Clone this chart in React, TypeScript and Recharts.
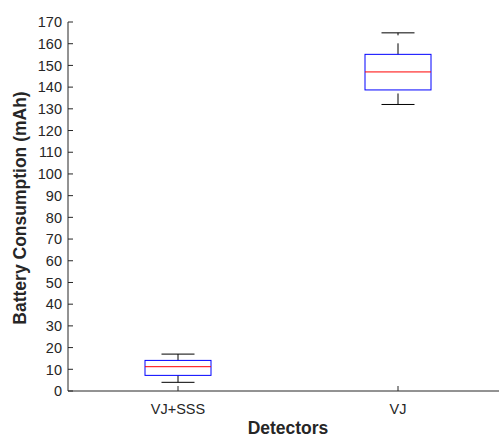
import React from 'react';
import { ComposedChart, Bar, XAxis, YAxis } from 'recharts';

// Box plot stats
const categories = ['VJ+SSS', 'VJ'];
const mins = [4, 132];
const q1s = [7.2, 138.7];
const medians = [11.2, 147];
const q3s = [14.1, 155.1];
const maxs = [17, 165];
const yTicks = [0, 10, 20, 30, 40, 50, 60, 70, 80, 90, 100, 110, 120, 130, 140, 150, 160, 170];

const data = categories.map((name, i) => ({
  name,
  min: mins[i],
  q1: q1s[i],
  median: medians[i],
  q3: q3s[i],
  max: maxs[i],
}));

const FONT = '"Liberation Sans", Arial, Helvetica, sans-serif';
const AXIS = '#262626';

const BoxShape = (props: any) => {
  const { x, y, width, height, payload } = props;
  const k = height / (payload.q3 - payload.q1);
  const toY = (v: number) => y + (payload.q3 - v) * k;
  const cx = x + width / 2;
  const capW = width / 2;
  return (
    <g>
      <line x1={cx} x2={cx} y1={y} y2={toY(payload.max)} stroke="#000" strokeDasharray="11 8" />
      <line x1={cx} x2={cx} y1={toY(payload.min)} y2={y + height} stroke="#000" strokeDasharray="11 8" />
      <line x1={cx - capW / 2} x2={cx + capW / 2} y1={toY(payload.max)} y2={toY(payload.max)} stroke="#000" />
      <line x1={cx - capW / 2} x2={cx + capW / 2} y1={toY(payload.min)} y2={toY(payload.min)} stroke="#000" />
      <rect x={x} y={y} width={width} height={height} fill="none" stroke="#0000ff" />
      <line x1={x} x2={x + width} y1={toY(payload.median)} y2={toY(payload.median)} stroke="#ff0000" />
    </g>
  );
};

const YTick = (props: any) => {
  const { x, y, payload } = props;
  return (
    <g>
      <line x1={x} x2={x + 5} y1={y} y2={y} stroke={AXIS} />
      <text x={x - 6} y={y} dy="0.36em" textAnchor="end" fill={AXIS} fontSize={14.5} fontFamily={FONT}>
        {payload.value}
      </text>
    </g>
  );
};

const XTick = (props: any) => {
  const { x, y, payload } = props;
  return (
    <g>
      <line x1={x} x2={x} y1={y} y2={y - 5} stroke={AXIS} />
      <text x={x} y={y + 23} textAnchor="middle" fill={AXIS} fontSize={14.5} fontFamily={FONT}>
        {payload.value}
      </text>
    </g>
  );
};

const TopTick = (props: any) => {
  const { x, y } = props;
  return <line x1={x} x2={x} y1={y} y2={y + 5} stroke={AXIS} />;
};

export default function App() {
  return (
    <div style={{ position: 'absolute', left: 0, top: 0, width: 499, height: 438, overflow: 'hidden', background: '#fff' }}>
      <ComposedChart width={520} height={438} data={data} margin={{ top: 22, right: 12, bottom: 0, left: 0 }}>
        <XAxis
          dataKey="name"
          height={47}
          stroke={AXIS}
          tickLine={false}
          tickSize={0}
          tickMargin={0}
          tick={<XTick />}
          interval={0}
          label={{
            content: () => (
              <text x={288} y={434} textAnchor="middle" fill={AXIS} fontSize={17.5} fontWeight="bold" fontFamily={FONT}>
                Detectors
              </text>
            ),
          }}
        />
        <XAxis
          xAxisId="top"
          dataKey="name"
          orientation="top"
          height={0}
          stroke={AXIS}
          tickLine={false}
          tickSize={0}
          tickMargin={0}
          tick={<TopTick />}
          interval={0}
        />
        <YAxis
          width={68}
          domain={[0, 170]}
          ticks={yTicks}
          interval={0}
          stroke={AXIS}
          tickLine={false}
          tickSize={0}
          tickMargin={0}
          tick={<YTick />}
          allowDataOverflow
          label={{
            content: () => (
              <text
                x={20}
                y={208}
                transform="rotate(-90 20 208)"
                textAnchor="middle"
                dominantBaseline="central"
                fill={AXIS}
                fontSize={17.5}
                fontWeight="bold"
                fontFamily={FONT}
              >
                Battery Consumption (mAh)
              </text>
            ),
          }}
        />
        <Bar
          dataKey={(d: any) => [d.q1, d.q3]}
          barSize={66}
          shape={<BoxShape />}
          isAnimationActive={false}
        />
      </ComposedChart>
    </div>
  );
}
